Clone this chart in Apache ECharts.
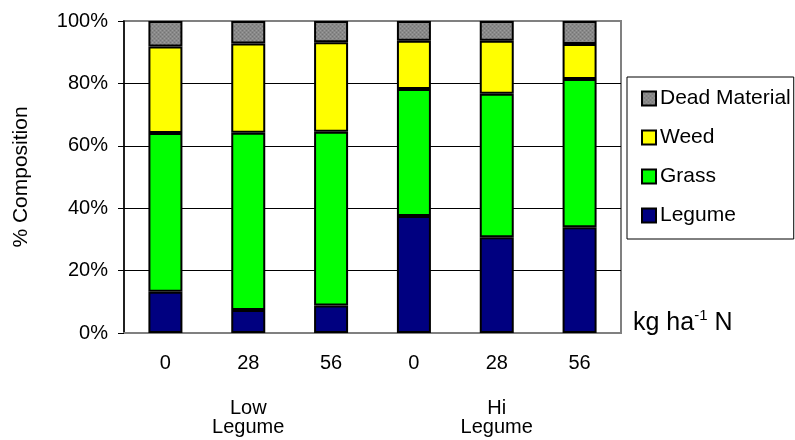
<!DOCTYPE html>
<html>
<head>
<meta charset="utf-8">
<script src="https://cdn.jsdelivr.net/npm/echarts@6/dist/echarts.min.js"></script>
<style>html,body{margin:0;padding:0;background:#fff;}#c{width:795px;height:440px;}</style>
</head>
<body>
<div id="c"></div>
<script>
const categories = ['0', '28', '56', '0', '28', '56'];
const groups = ['Low\nLegume', 'Hi\nLegume'];
const legume = [13.2, 7.4, 8.8, 37.5, 30.7, 33.9];
const grass = [50.9, 56.8, 55.7, 40.7, 46.0, 47.5];
const weed = [27.7, 28.6, 28.7, 15.5, 17.0, 11.2];
const dead = [8.2, 7.2, 6.8, 6.3, 6.3, 7.4];
const yTicks = [0, 20, 40, 60, 80, 100];

const FONT = '"Liberation Sans", Arial, sans-serif';

// dotted gray pattern for dead material
const pc = document.createElement('canvas');
pc.width = 4; pc.height = 4;
const pctx = pc.getContext('2d');
pctx.fillStyle = '#888888'; pctx.fillRect(0, 0, 4, 4);
pctx.fillStyle = '#747474';
pctx.fillRect(0, 0, 1, 1); pctx.fillRect(2, 2, 1, 1);
pctx.fillStyle = '#9c9c9c';
pctx.fillRect(2, 0, 1, 1); pctx.fillRect(0, 2, 1, 1);
const deadPattern = { image: pc, repeat: 'repeat' };

const border = { borderColor: '#000', borderWidth: 2 };
function bar(name, data, color) {
  return {
    name: name, type: 'bar', stack: 'a', data: data, barWidth: 34,
    itemStyle: Object.assign({ color: color }, border),
    emphasis: { disabled: true }
  };
}

const chart = echarts.init(document.getElementById('c'));
chart.setOption({
  animation: false,
  backgroundColor: '#fff',
  textStyle: { fontFamily: FONT },
  grid: { left: 124, top: 21, width: 497, height: 312, show: true, borderColor: '#808080', borderWidth: 2, containLabel: false },
  legend: {
    orient: 'vertical', left: 627, top: 77,
    data: ['Dead Material', 'Weed', 'Grass', 'Legume'],
    itemWidth: 14, itemHeight: 14, itemGap: 18,
    padding: [11, 3, 13, 14],
    borderColor: '#000', borderWidth: 1,
    icon: 'rect',
    selectedMode: false,
    textStyle: { fontFamily: FONT, fontSize: 21, color: '#000', padding: [0, 0, 0, -1] }
  },
  xAxis: [
    {
      type: 'category', data: categories,
      axisLine: { lineStyle: { color: '#808080', width: 2 } },
      axisTick: { show: false },
      axisLabel: { fontFamily: FONT, fontSize: 20, color: '#000', margin: 20 }
    },
    {
      type: 'category', data: groups, position: 'bottom',
      axisLine: { show: false }, axisTick: { show: false },
      axisLabel: { fontFamily: FONT, fontSize: 20, color: '#000', margin: 66, lineHeight: 19 }
    }
  ],
  yAxis: {
    type: 'value', min: yTicks[0], max: yTicks[yTicks.length - 1], interval: 20,
    name: '% Composition', nameLocation: 'middle', nameGap: 92,
    nameTextStyle: { fontFamily: FONT, fontSize: 21, color: '#000' },
    axisLine: { show: true, lineStyle: { color: '#000', width: 1.5 } },
    axisTick: { show: true, length: 6, lineStyle: { color: '#000', width: 1 } },
    axisLabel: { fontFamily: FONT, fontSize: 20, color: '#000', margin: 16, formatter: '{value}%' },
    splitLine: { show: true, lineStyle: { color: ['#000', '#000', '#000', '#000', '#000', '#808080'], width: 1 } }
  },
  graphic: [{
    type: 'text', left: 633, top: 308,
    style: {
      text: '{n|kg ha}{s|-1}{n| N}',
      rich: {
        n: { fontFamily: FONT, fontSize: 25, fill: '#000', lineHeight: 30 },
        s: { fontFamily: FONT, fontSize: 15, fill: '#000', verticalAlign: 'top', lineHeight: 30 }
      }
    }
  }],
  series: [
    bar('Legume', legume, '#000080'),
    bar('Grass', grass, '#00ff00'),
    bar('Weed', weed, '#ffff00'),
    bar('Dead Material', dead, deadPattern)
  ]
});
</script>
</body>
</html>
